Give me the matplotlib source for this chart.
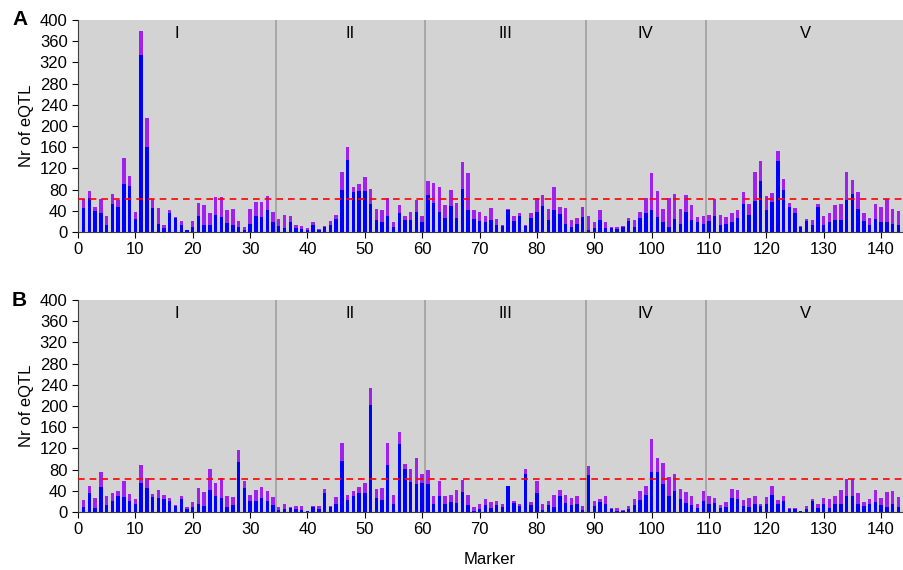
import numpy as np
import matplotlib
matplotlib.use("Agg")
import matplotlib.pyplot as plt

plt.rcParams['font.family'] = ['Liberation Sans', 'DejaVu Sans']

# panel A: total eQTL per marker and the blue (lower) part
total_a = [62, 78, 47, 62, 30, 72, 60, 139, 105, 37,
           379, 216, 62, 45, 14, 42, 28, 20, 3, 21,
           55, 50, 35, 66, 66, 41, 43, 21, 9, 43,
           56, 56, 67, 37, 24, 33, 30, 13, 11, 8,
           18, 5, 11, 21, 33, 113, 160, 84, 90, 104,
           82, 44, 41, 64, 18, 50, 31, 38, 61, 30,
           97, 92, 84, 50, 79, 55, 133, 111, 42, 38,
           31, 45, 24, 14, 43, 31, 35, 13, 36, 64,
           69, 43, 84, 48, 45, 23, 27, 48, 30, 19,
           42, 18, 10, 9, 11, 26, 23, 38, 65, 111,
           77, 43, 65, 71, 43, 69, 50, 29, 31, 33,
           62, 33, 28, 35, 42, 75, 52, 113, 134, 67,
           73, 153, 100, 54, 46, 11, 24, 22, 53, 30,
           35, 50, 53, 113, 98, 76, 35, 26, 52, 48,
           62, 43, 40]
blue_a = [45, 65, 40, 35, 14, 52, 47, 90, 87, 24,
          334, 160, 45, 16, 8, 35, 27, 13, 3, 9,
          30, 14, 14, 33, 28, 17, 14, 9, 4, 16,
          30, 28, 42, 18, 11, 7, 19, 8, 6, 4,
          13, 3, 10, 14, 25, 79, 135, 75, 77, 77,
          53, 22, 19, 30, 9, 35, 22, 22, 37, 18,
          69, 55, 37, 26, 49, 26, 82, 41, 25, 20,
          18, 22, 14, 11, 42, 20, 30, 12, 26, 38,
          49, 23, 41, 34, 16, 9, 16, 28, 3, 8,
          22, 8, 8, 6, 9, 20, 9, 27, 35, 42,
          29, 18, 9, 24, 16, 37, 22, 18, 16, 21,
          31, 14, 16, 18, 26, 52, 32, 58, 96, 41,
          57, 134, 79, 47, 35, 9, 20, 13, 47, 13,
          18, 22, 22, 61, 71, 43, 20, 13, 25, 18,
          18, 16, 14]

# panel B
total_b = [22, 49, 26, 76, 30, 35, 39, 59, 34, 25,
           89, 64, 34, 42, 32, 26, 14, 30, 9, 18,
           46, 37, 82, 54, 65, 30, 28, 117, 59, 33,
           42, 48, 39, 28, 10, 15, 10, 12, 11, 2,
           12, 12, 44, 12, 28, 130, 33, 39, 47, 54,
           234, 44, 46, 130, 33, 150, 91, 81, 102, 71,
           80, 31, 59, 31, 33, 41, 61, 32, 10, 16,
           25, 19, 21, 15, 50, 20, 16, 82, 19, 59,
           16, 20, 32, 41, 32, 26, 30, 12, 87, 21,
           25, 30, 8, 7, 3, 11, 25, 39, 50, 137,
           101, 92, 66, 71, 43, 37, 30, 15, 40, 30,
           27, 13, 19, 44, 42, 22, 26, 31, 15, 29,
           49, 22, 31, 8, 8, 1, 11, 25, 16, 26,
           25, 30, 42, 62, 63, 35, 19, 25, 42, 27,
           37, 40, 29]
blue_b = [9, 36, 8, 47, 13, 20, 30, 28, 21, 16,
          54, 45, 28, 27, 25, 20, 11, 25, 5, 9,
          16, 11, 42, 30, 27, 9, 13, 95, 45, 21,
          21, 26, 20, 13, 3, 5, 8, 6, 3, 1,
          9, 5, 36, 9, 16, 97, 23, 30, 35, 35,
          201, 27, 23, 89, 15, 128, 81, 57, 52, 55,
          52, 16, 31, 15, 19, 17, 37, 13, 2, 6,
          13, 7, 14, 9, 49, 17, 11, 71, 13, 36,
          4, 13, 9, 30, 17, 13, 15, 4, 69, 11,
          19, 15, 6, 2, 2, 6, 14, 23, 32, 76,
          76, 53, 30, 39, 24, 17, 13, 8, 21, 15,
          17, 8, 10, 26, 25, 11, 9, 15, 11, 15,
          33, 15, 21, 6, 6, 1, 6, 21, 8, 15,
          8, 15, 15, 31, 31, 16, 11, 15, 19, 13,
          10, 16, 10]

chrom_names = ['I', 'II', 'III', 'IV', 'V']
chrom_breaks = [34.5, 60.5, 88.5, 109.5]
threshold = 63

fig = plt.figure(figsize=(9.04, 5.70), dpi=100)
ax_a = fig.add_axes([78 / 904, 1 - 232 / 570, 826 / 904, 212 / 570])
ax_b = fig.add_axes([78 / 904, 1 - 512 / 570, 826 / 904, 212 / 570])

edges = [0] + chrom_breaks + [144]
for ax, tot, blu, letter in [(ax_a, total_a, blue_a, 'A'), (ax_b, total_b, blue_b, 'B')]:
    x = np.arange(1, len(tot) + 1)
    tot = np.array(tot)
    blu = np.array(blu)
    ax.set_facecolor('#d3d3d3')
    ax.bar(x, blu, width=0.6, color='#0000ff', linewidth=0, zorder=2)
    ax.bar(x, tot - blu, bottom=blu, width=0.6, color='#a020f0', linewidth=0, zorder=2)
    for b in chrom_breaks:
        ax.axvline(b, color='#a0a0a0', linewidth=1.2, zorder=1)
    ax.axhline(threshold, color='#ff0000', linestyle=(0, (4, 3)), linewidth=1.2, zorder=3)
    for i, name in enumerate(chrom_names):
        ax.text((edges[i] + edges[i + 1]) / 2, 375, name, ha='center', va='center',
                fontsize=12)
    ax.set_xlim(0, 144)
    ax.set_ylim(0, 400)
    ax.set_xticks(range(0, 141, 10))
    ax.set_yticks(range(0, 401, 40))
    ax.tick_params(labelsize=12, length=4, direction='out')
    for s in ['top', 'right']:
        ax.spines[s].set_visible(False)
    ax.spines['left'].set_color('#404040')
    ax.spines['bottom'].set_color('#404040')
    ax.set_ylabel('Nr of eQTL', fontsize=12)
    fig.text(12 / 904, ax.get_position().y1, letter, fontsize=15,
             fontweight='bold', va='center', ha='left')

fig.text(490 / 904, 1 - 560 / 570, 'Marker', fontsize=12, ha='center', va='center')

fig.savefig('out.png', dpi=100)
